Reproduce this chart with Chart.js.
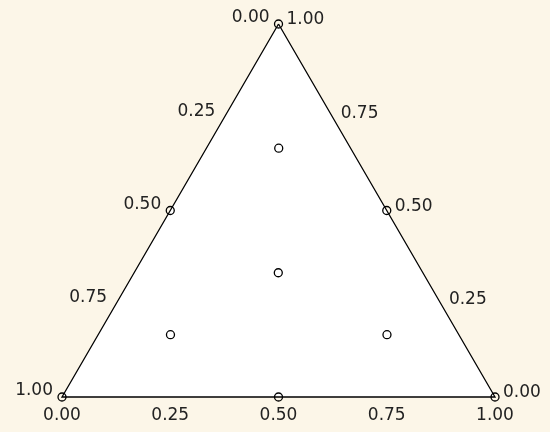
<!DOCTYPE html>
<html>
<head>
<meta charset="utf-8">
<script src="https://cdn.jsdelivr.net/npm/chart.js@4.4.1/dist/chart.umd.min.js"></script>
<style>
  html, body { margin: 0; padding: 0; background: #fcf6e8; }
  #wrap { width: 550px; height: 432px; }
</style>
</head>
<body>
<div id="wrap"><canvas id="tern"></canvas></div>
<script>
// design points, three mixture components (top, left, right)
const compTop   = [1, 0, 0, 0.5, 0.5, 0,   0.667, 0.167, 0.167, 0.333];
const compLeft  = [0, 1, 0, 0.5, 0,   0.5, 0.167, 0.667, 0.167, 0.333];
const compRight = [0, 0, 1, 0,   0.5, 0.5, 0.167, 0.167, 0.667, 0.333];

// tick labels along each side
const tickValues = [0, 0.25, 0.5, 0.75, 1];
const leftLabels   = ["0.00", "0.25", "0.50", "0.75", "1.00"];  // top -> bottom-left
const rightLabels  = ["1.00", "0.75", "0.50", "0.25", "0.00"];  // top -> bottom-right
const bottomLabels = ["0.00", "0.25", "0.50", "0.75", "1.00"];  // left -> right

const H = Math.sqrt(3) / 2;

// ternary -> cartesian
function toXY(a, b, c) {
  return { x: c + a / 2, y: a * H };
}

const points = compTop.map((a, i) => toXY(a, compLeft[i], compRight[i]));
const outline = [toXY(1, 0, 0), toXY(0, 1, 0), toXY(0, 0, 1), toXY(1, 0, 0)];

const labelPlugin = {
  id: 'ternLabels',
  afterDatasetsDraw(chart) {
    const ctx = chart.ctx;
    const xs = chart.scales.x, ys = chart.scales.y;
    const px = p => ({ x: xs.getPixelForValue(p.x), y: ys.getPixelForValue(p.y) });
    ctx.save();
    ctx.font = '17px "DejaVu Sans"';
    ctx.fillStyle = '#222';
    ctx.textBaseline = 'middle';
    tickValues.forEach((t, i) => {
      // left side, from top vertex down to bottom-left
      let p = px(toXY(1 - t, t, 0));
      ctx.textAlign = 'right';
      ctx.fillText(leftLabels[i], p.x - 9, p.y - 6);
      // right side, from top vertex down to bottom-right
      p = px(toXY(1 - t, 0, t));
      ctx.textAlign = 'left';
      ctx.fillText(rightLabels[i], p.x + 8, p.y - 4);
      // bottom side
      p = px(toXY(0, 1 - t, t));
      ctx.textAlign = 'center';
      ctx.fillText(bottomLabels[i], p.x, p.y + 19);
    });
    ctx.restore();
  }
};

const ctx = document.getElementById('tern').getContext('2d');
const chart = new Chart(ctx, {
  type: 'scatter',
  data: {
    datasets: [
      {
        data: outline,
        showLine: true,
        fill: 'shape',
        backgroundColor: '#ffffff',
        borderColor: '#000000',
        borderWidth: 1.3,
        pointRadius: 0,
        tension: 0,
        order: 2
      },
      {
        data: points,
        pointRadius: 4,
        pointBorderWidth: 1.3,
        pointBorderColor: '#000000',
        pointBackgroundColor: 'rgba(255,255,255,0)',
        order: 1
      }
    ]
  },
  options: {
    responsive: true,
    maintainAspectRatio: false,
    animation: false,
    layout: { padding: 0, autoPadding: false },
    plugins: { legend: { display: false }, tooltip: { enabled: false } },
    scales: {
      x: { type: 'linear', display: false, min: -0.1432, max: 1.127 },
      y: { type: 'linear', display: false, min: -0.0813, max: 0.9217 }
    }
  },
  plugins: [labelPlugin]
});
</script>
</body>
</html>
